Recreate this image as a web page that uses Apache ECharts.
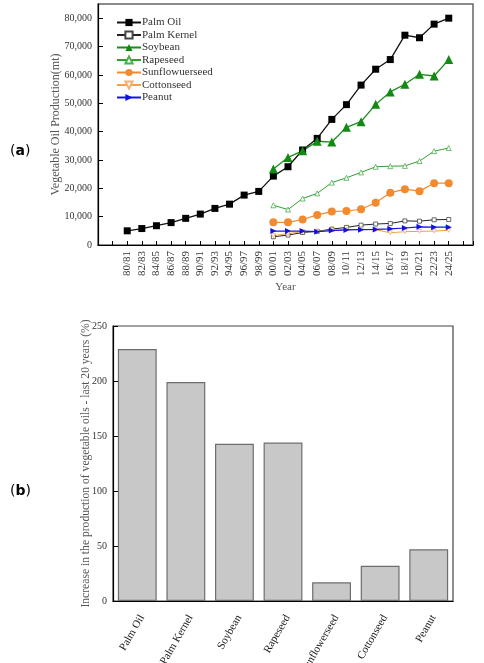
<!DOCTYPE html>
<html>
<head>
<meta charset="utf-8">
<script src="https://cdn.jsdelivr.net/npm/echarts@6/dist/echarts.min.js"></script>
<style>html,body{margin:0;padding:0;background:#fff}#c{width:484px;height:663px}</style>
</head>
<body>
<div id="c"></div>
<script>
// ---- Data: panel (a) ----
const years = ['80/81','82/83','84/85','86/87','88/89','90/91','92/93','94/95','96/97','98/99',
  '00/01','02/03','04/05','06/07','08/09','10/11','12/13','14/15','16/17','18/19','20/21','22/23','24/25'];
const palmOil = [5000,5800,6800,7900,9400,10900,12900,14400,17600,18900,24300,27600,33500,37600,44300,49500,56400,62000,65400,74000,73100,77900,80000];
const palmKernel = [2900,3500,4400,4800,5600,6200,7000,7400,7600,8500,8400,8900,9000];
const soybean = [26800,30900,33200,36600,36300,41500,43500,49600,54000,56700,60200,59600,65400];
const rapeseed = [14000,12500,16400,18200,22000,23700,25600,27600,27800,27900,29600,33100,34200];
const sunflower = [8000,8000,9000,10600,11800,12000,12600,14900,18400,19700,19000,21800,21800];
const cottonseed = [3300,4000,4700,4800,5200,5400,5500,5400,4300,4700,4800,4900,5200];
const peanut = [4900,4900,4900,4700,5100,5300,5400,5500,5700,6000,6400,6300,6300];
const startIdx = 10; // series other than palm oil start at 00/01
const legendNames = ['Palm Oil','Palm Kernel','Soybean','Rapeseed','Sunflowuerseed','Cottonseed','Peanut'];
const yTicksA = [0,10000,20000,30000,40000,50000,60000,70000,80000];

// ---- Data: panel (b) ----
const oils = ['Palm Oil','Palm Kernel','Soybean','Rapeseed','Sunflowerseed','Cottonseed','Peanut'];
const increase = [229,199,143,144,17,32,47];

const F = 'Liberation Serif';
const pairs = (arr, off) => arr.map((v, i) => [i + off, v]);

const chart = echarts.init(document.getElementById('c'), null, {renderer: 'canvas'});
chart.setOption({
  animation: false,
  textStyle: {fontFamily: F},
  grid: [
    {left: 98, right: 11, top: 4, height: 241, show: true, borderColor: '#666', borderWidth: 1.5, backgroundColor: 'transparent', outerBoundsMode: 'none', containLabel: false},
    {left: 113, right: 31, top: 326, height: 275, show: true, borderColor: '#444', borderWidth: 1.2, backgroundColor: 'transparent', outerBoundsMode: 'none', containLabel: false}
  ],
  legend: {
    orient: 'vertical', left: 111, top: 12, itemGap: 1.5, itemWidth: 24, itemHeight: 9,
    data: legendNames,
    textStyle: {fontFamily: F, fontSize: 11, color: '#333', padding: [0,0,0,-4]}
  },
  graphic: [
    {type: 'text', left: 10, top: 144, style: {text: '{p|(}{b|a}{p|)}', rich: {p: {fontFamily: 'DejaVu Sans', fontSize: 14, fill: '#000'}, b: {fontFamily: 'DejaVu Sans', fontSize: 14, fontWeight: 'bold', fill: '#000'}}}},
    {type: 'text', left: 10, top: 484, style: {text: '{p|(}{b|b}{p|)}', rich: {p: {fontFamily: 'DejaVu Sans', fontSize: 14, fill: '#000'}, b: {fontFamily: 'DejaVu Sans', fontSize: 14, fontWeight: 'bold', fill: '#000'}}}}
  ],
  xAxis: [
    {
      gridIndex: 0, type: 'value', min: -2, max: 23.66, interval: 1,
      name: 'Year', nameLocation: 'middle', nameGap: 37, nameMoveOverlap: false,
      nameTextStyle: {fontFamily: F, fontSize: 11, color: '#555'},
      axisLine: {onZero: false, lineStyle: {color: '#000', width: 1.2}},
      axisTick: {inside: true, length: 4, lineStyle: {color: '#000'}},
      splitLine: {show: false},
      axisLabel: {
        rotate: 90, margin: 6, fontFamily: F, fontSize: 11, color: '#333',
        formatter: v => (Number.isInteger(v) && v >= 0 && v < years.length) ? years[v] : ''
      }
    },
    {
      gridIndex: 1, type: 'category', data: oils,
      axisLine: {lineStyle: {color: '#000', width: 1.2}},
      axisTick: {alignWithLabel: true, length: 5, lineStyle: {color: '#000'}},
      axisLabel: {rotate: 60, margin: 12, verticalAlign: 'top', fontFamily: F, fontSize: 11, color: '#222', interval: 0}
    },
    {
      gridIndex: 1, type: 'category', data: oils, position: 'bottom',
      axisLine: {show: false},
      axisTick: {length: 3, lineStyle: {color: '#000'}},
      axisLabel: {show: false}
    }
  ],
  yAxis: [
    {
      gridIndex: 0, type: 'value', min: 0, max: 85000, interval: 10000,
      name: 'Vegetable Oil Production(mt)', nameLocation: 'middle', nameGap: 36, nameMoveOverlap: false,
      nameTextStyle: {fontFamily: F, fontSize: 12, color: '#555'},
      axisLine: {show: true, onZero: false, lineStyle: {color: '#000', width: 1.2}},
      axisTick: {show: true, inside: true, length: 5, lineStyle: {color: '#000'}},
      splitLine: {show: false},
      axisLabel: {showMaxLabel: false, margin: 6, fontFamily: F, fontSize: 10, color: '#333',
        formatter: v => yTicksA.includes(v) ? v.toLocaleString('en-US') : ''}
    },
    {
      gridIndex: 1, type: 'value', min: 0, max: 250, interval: 50,
      name: 'Increase in the production of vegetable oils - last 20 years (%)', nameLocation: 'middle', nameGap: 21, nameMoveOverlap: false,
      nameTextStyle: {fontFamily: F, fontSize: 11.6, color: '#555'},
      axisLine: {show: true, onZero: false, lineStyle: {color: '#000', width: 1.2}},
      axisTick: {show: true, inside: true, length: 5, lineStyle: {color: '#000'}},
      splitLine: {show: false},
      axisLabel: {margin: 6, fontFamily: F, fontSize: 10, color: '#333'}
    }
  ],
  series: [
    {name: legendNames[0], type: 'line', xAxisIndex: 0, yAxisIndex: 0, data: pairs(palmOil, 0),
      symbol: 'rect', symbolSize: 7, showAllSymbol: true,
      lineStyle: {color: '#111', width: 1.3}, itemStyle: {color: '#000'}},
    {name: legendNames[1], type: 'line', xAxisIndex: 0, yAxisIndex: 0, data: pairs(palmKernel, startIdx),
      symbol: 'rect', symbolSize: 4, showAllSymbol: true,
      lineStyle: {color: '#222', width: 1}, itemStyle: {color: '#fff', borderColor: '#444', borderWidth: 0.8}},
    {name: legendNames[2], type: 'line', xAxisIndex: 0, yAxisIndex: 0, data: pairs(soybean, startIdx),
      symbol: 'triangle', symbolSize: 9, showAllSymbol: true,
      lineStyle: {color: '#1a8c1a', width: 1.3}, itemStyle: {color: '#138a13'}},
    {name: legendNames[3], type: 'line', xAxisIndex: 0, yAxisIndex: 0, data: pairs(rapeseed, startIdx),
      symbol: 'triangle', symbolSize: 5, showAllSymbol: true,
      lineStyle: {color: '#2f9f2f', width: 1}, itemStyle: {color: '#fff', borderColor: '#4caf4c', borderWidth: 0.8}},
    {name: legendNames[4], type: 'line', xAxisIndex: 0, yAxisIndex: 0, data: pairs(sunflower, startIdx),
      symbol: 'circle', symbolSize: 8, showAllSymbol: true,
      lineStyle: {color: '#f28a30', width: 1.2}, itemStyle: {color: '#f28a30'}},
    {name: legendNames[5], type: 'line', xAxisIndex: 0, yAxisIndex: 0, data: pairs(cottonseed, startIdx),
      symbol: 'triangle', symbolSize: 4, symbolRotate: 180, showAllSymbol: true,
      lineStyle: {color: '#f5a04a', width: 1}, itemStyle: {color: '#fff', borderColor: '#f5b070', borderWidth: 0.8}},
    {name: legendNames[6], type: 'line', xAxisIndex: 0, yAxisIndex: 0, data: pairs(peanut, startIdx),
      symbol: 'triangle', symbolSize: 6, symbolRotate: -90, showAllSymbol: true,
      lineStyle: {color: '#1515e6', width: 1.2}, itemStyle: {color: '#1010e0'}},
    {name: 'increase', type: 'bar', xAxisIndex: 1, yAxisIndex: 1, data: increase, barWidth: '80%',
      itemStyle: {color: '#c8c8c8', borderColor: '#6e6e6e', borderWidth: 1.2}}
  ]
});
</script>
</body>
</html>
